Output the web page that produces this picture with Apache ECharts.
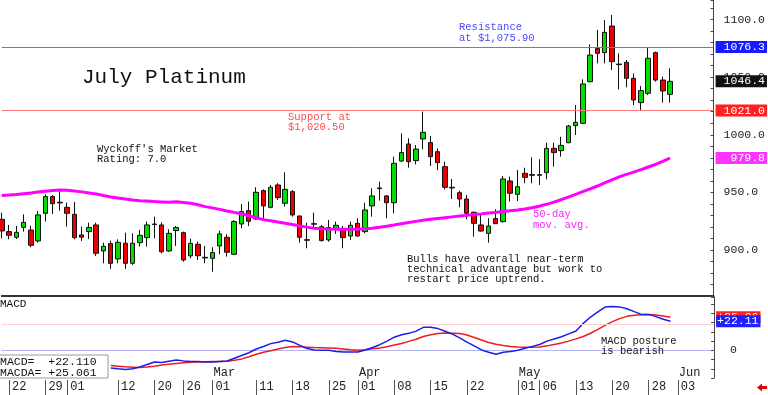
<!DOCTYPE html>
<html><head><meta charset="utf-8">
<script src="https://cdn.jsdelivr.net/npm/echarts@6/dist/echarts.min.js"></script>
<style>html,body{margin:0;padding:0;background:#fff}#c{width:768px;height:395px}</style>
</head><body><div id="c"></div>
<script>
const dates = ['2024-01-19','2024-01-22','2024-01-23','2024-01-24','2024-01-25','2024-01-26','2024-01-29','2024-01-30','2024-01-31',
'2024-02-01','2024-02-02','2024-02-05','2024-02-06','2024-02-07','2024-02-08','2024-02-09','2024-02-12','2024-02-13','2024-02-14','2024-02-15','2024-02-16','2024-02-20','2024-02-21','2024-02-22','2024-02-23','2024-02-26','2024-02-27','2024-02-28','2024-02-29',
'2024-03-01','2024-03-04','2024-03-05','2024-03-06','2024-03-07','2024-03-08','2024-03-11','2024-03-12','2024-03-13','2024-03-14','2024-03-15','2024-03-18','2024-03-19','2024-03-20','2024-03-21','2024-03-22','2024-03-25','2024-03-26','2024-03-27','2024-03-28',
'2024-04-01','2024-04-02','2024-04-03','2024-04-04','2024-04-05','2024-04-08','2024-04-09','2024-04-10','2024-04-11','2024-04-12','2024-04-15','2024-04-16','2024-04-17','2024-04-18','2024-04-19','2024-04-22','2024-04-23','2024-04-24','2024-04-25','2024-04-26','2024-04-29','2024-04-30',
'2024-05-01','2024-05-02','2024-05-03','2024-05-06','2024-05-07','2024-05-08','2024-05-09','2024-05-10','2024-05-13','2024-05-14','2024-05-15','2024-05-16','2024-05-17','2024-05-20','2024-05-21','2024-05-22','2024-05-23','2024-05-24','2024-05-28','2024-05-29','2024-05-30','2024-05-31',
'2024-06-03','2024-06-04','2024-06-05','2024-06-06','2024-06-07','2024-06-10'];

const opens = [926.6,915.9,911.0,919.6,917.3,907.8,931.8,946.3,941.4,937.0,930.9,913.0,915.9,921.7,899.1,905.5,892.2,905.8,888.4,906.3,910.7,922.0,921.7,899.1,916.8,915.0,894.8,904.9,893.0,892.7,903.4,911.0,896.2,922.5,934.1,926.9,951.5,937.0,956.4,940.5,950.6,929.5,908.4,922.3,920.2,908.7,918.2,917.9,912.1,923.1,915.9,938.2,953.8,946.9,941.0,977.2,992.0,977.5,996.3,993.2,985.3,972.3,953.8,949.7,944.2,932.7,921.7,914.4,927.2,924.6,959.9,948.3,966.5,964.8,965.4,967.1,988.2,986.2,993.1,1007.9,1009.9,1046.1,1074.8,1071.3,1094.4,1061.4,1062.9,1049.0,1027.9,1036.0,1071.3,1047.5,1035.1];
const closes = [916.5,912.7,915.3,924.0,904.0,930.4,946.3,940.2,940.8,931.8,910.7,911.0,919.6,897.1,903.2,888.4,906.6,888.4,905.8,912.7,921.7,922.5,898.5,914.4,919.4,891.3,905.7,895.0,893.6,897.7,913.9,898.0,924.6,933.3,924.9,950.0,938.2,954.4,945.4,952.6,930.4,911.0,908.9,922.8,908.1,919.4,921.4,910.7,921.4,912.1,934.7,946.9,953.2,941.0,975.2,984.5,976.6,987.6,1002.1,981.0,975.8,954.4,954.4,944.2,931.8,923.1,916.4,920.8,922.8,961.6,949.2,954.9,963.0,965.4,964.8,988.2,984.5,990.8,1007.6,1010.8,1044.1,1069.2,1070.7,1088.9,1063.5,1060.9,1049.0,1030.2,1038.3,1066.4,1047.5,1038.0,1046.4];
const lows = [910.1,909.2,909.5,915.9,902.3,906.3,924.6,931.2,934.1,920.2,909.2,907.8,909.5,894.8,888.4,883.5,888.4,883.5,887.0,902.9,902.9,910.1,897.1,898.5,903.4,889.8,892.7,891.3,888.4,881.1,896.2,894.2,895.6,918.8,920.8,926.0,925.4,936.1,943.4,937.6,928.9,906.3,901.4,918.8,907.2,907.2,913.9,901.4,908.7,911.5,914.4,928.9,942.8,927.5,931.8,976.6,971.4,974.3,987.4,972.9,969.4,952.6,944.2,937.0,926.6,911.5,915.9,906.3,922.5,923.7,941.9,942.5,957.9,957.9,956.4,961.3,972.3,981.0,992.6,999.8,1009.3,1045.5,1062.0,1062.0,1056.2,1039.4,1041.2,1025.8,1021.5,1034.5,1046.1,1027.9,1027.9];
const highs = [932.4,921.7,920.8,930.9,921.1,933.8,948.3,947.7,951.5,941.1,941.7,920.2,923.7,923.7,906.3,908.1,909.2,915.0,914.4,917.3,924.6,928.9,924.0,917.9,920.8,915.9,909.8,907.2,903.4,902.3,916.8,913.6,926.0,939.9,942.0,954.4,952.6,956.4,957.9,967.4,952.0,929.5,923.7,932.4,921.7,926.0,924.6,920.8,924.6,927.5,941.0,953.5,959.3,947.7,981.0,1001.3,996.9,991.1,1020.1,998.9,988.2,976.6,961.6,951.5,947.7,933.2,930.9,927.5,935.3,964.2,963.6,969.4,971.4,980.4,978.7,993.1,993.1,998.3,1008.5,1025.8,1048.1,1078.5,1091.0,1099.6,1104.0,1070.7,1064.9,1053.3,1042.3,1075.9,1072.2,1050.4,1057.7];
const ma50 = [947.2,947.6,948.1,948.8,949.5,950.3,951.0,951.6,952.0,951.8,951.2,950.4,949.5,948.5,947.2,946.0,945.0,944.2,943.4,942.8,942.4,942.0,941.7,941.4,941.8,941.2,940.6,939.2,937.6,936.5,935.2,933.8,932.6,931.5,929.7,927.9,926.3,925.3,924.2,923.2,922.1,920.9,919.8,918.9,918.4,918.1,918.0,917.9,917.9,918.0,918.3,918.9,919.6,920.6,921.6,922.8,923.8,924.8,925.8,926.6,927.3,928.0,928.7,929.4,930.0,930.7,931.3,932.0,932.6,933.3,934.0,934.6,935.5,936.6,938.0,939.6,941.5,943.6,945.9,948.2,950.6,953.0,955.5,958.2,960.9,963.4,965.6,967.5,969.7,972.0,974.2,976.8,979.8];
const macd = [null,null,null,null,null,null,null,null,null,null,null,null,null,null,null,
-13.4,-14.0,-14.5,-14.0,-12.7,-10.8,-8.9,-9.2,-8.2,-7.3,-8.0,-8.4,-8.5,-8.8,-8.8,-8.4,-8.1,-6.0,-3.9,-1.8,1.0,2.9,5.1,6.2,7.6,6.4,3.8,1.4,0.3,0,0,-0.9,-1.3,-1.3,-1.3,0.3,2.2,4.3,7.0,10.0,11.8,12.9,14.6,17.5,17.6,16.5,14.5,12.3,9.5,6.3,3.4,0.3,-1.5,-3.0,-1.5,-0.8,0.1,1.6,3.0,4.4,7.0,8.6,10.3,12.5,14.7,20.5,25.3,29.2,32.9,33.3,33.0,31.6,29.4,27.3,27.3,25.6,23.6,22.11];
const macdAvg = [null,null,null,null,null,null,null,null,null,null,null,null,null,null,null,
-11.5,-12.0,-12.5,-12.8,-13.1,-12.6,-12.0,-11.2,-10.5,-10.0,-9.5,-9.0,-8.8,-8.6,-8.5,-8.4,-8.3,-7.6,-6.5,-4.8,-3.0,-1.5,-0.3,1.0,2.2,3.0,2.7,2.4,2.1,1.9,1.7,1.5,1.0,0.5,0.1,0.5,1.2,1.8,2.8,4.0,5.2,6.8,8.4,10.5,11.8,12.8,13.1,13.0,12.8,11.6,9.8,7.8,6.0,4.6,3.6,3.0,2.5,2.4,2.4,2.6,3.4,4.5,5.5,7.0,8.7,10.5,13.0,15.9,19.0,21.8,24.1,25.8,26.6,27.0,27.3,26.9,26.0,25.061];
const tickDates = ['2024-01-22','2024-01-29','2024-02-01','2024-02-12','2024-02-20','2024-02-26','2024-03-01','2024-03-11','2024-03-18','2024-03-25','2024-04-01','2024-04-08','2024-04-15','2024-04-22','2024-05-01','2024-05-06','2024-05-13','2024-05-20','2024-05-28','2024-06-03'];
const monthStarts = ['2024-02-01','2024-03-01','2024-04-01','2024-05-01','2024-06-03'];
const monthNames = ['Jan','Feb','Mar','Apr','May','Jun','Jul','Aug','Sep','Oct','Nov','Dec'];
const priceTicks = [900, 950, 1000, 1050, 1100];
const resistance = 1076.3;
const support = 1021.0;
const macdRef = 20;

const MONO = '"Liberation Mono", "DejaVu Sans Mono", monospace';
const NOLINE = { color: 'rgba(0,0,0,0)', width: 1 };
const candleData = opens.map((o, i) => [o, closes[i], lows[i], highs[i]]);
const last = a => a[a.length - 1];
const lastClose = last(closes), lastMA = last(ma50), lastMacd = last(macd), lastAvg = last(macdAvg);
const sgn = v => (v >= 0 ? '+' : '') + v;
const isTick = (i, v) => tickDates.includes(v);

function boxLabel(text, bg, pad) {
  return { show: true, position: 'end', distance: 2, formatter: text, color: '#fff',
    backgroundColor: bg, padding: pad, fontFamily: MONO, fontSize: 11.5, lineHeight: 12 };
}
function txt(x, y, text, color, size, lh) {
  return { type: 'text', x: x, y: y, z: 100,
    style: { text: text, fill: color, font: size + 'px ' + MONO, lineHeight: lh, verticalAlign: 'top' } };
}

const chart = echarts.init(document.getElementById('c'), null, { renderer: 'canvas' });
chart.setOption({
  animation: false,
  backgroundColor: '#fff',
  grid: [
    { left: 1.8, top: 0, width: 712.3, height: 296 },
    { left: 1.8, top: 297, width: 712.3, height: 81 },
    { left: 1.8, top: 380, width: 712.3, height: 15 }
  ],
  xAxis: [
    { type: 'category', gridIndex: 0, position: 'bottom', data: dates, boundaryGap: false,
      axisLine: { show: true, lineStyle: { color: '#333', width: 2 } },
      axisTick: { show: false }, axisLabel: { show: false } },
    { type: 'category', gridIndex: 1, position: 'bottom', data: dates, boundaryGap: false,
      axisLine: { show: true, lineStyle: { color: '#b4b4f0', width: 1 } },
      axisTick: { show: false },
      axisLabel: { show: true, interval: isTick, formatter: v => v.slice(8),
        align: 'left', padding: [0, 0, 0, 3], margin: 3, fontFamily: MONO, fontSize: 12, color: '#222' } },
    { type: 'category', gridIndex: 1, position: 'bottom', data: dates, boundaryGap: false,
      axisLine: { show: false }, axisTick: { show: false },
      axisLabel: { show: true, inside: true, interval: (i, v) => monthStarts.includes(v),
        formatter: v => monthNames[parseInt(v.slice(5, 7), 10) - 1],
        align: 'left', margin: 1, lineHeight: 9, backgroundColor: '#fff', padding: [0, 1, 0, 1],
        fontFamily: MONO, fontSize: 12, color: '#222' } },
    { type: 'category', gridIndex: 2, position: 'bottom', data: dates, boundaryGap: false,
      axisLine: { show: false }, axisTick: { show: false }, axisLabel: { show: false },
      splitLine: { show: true, interval: isTick, lineStyle: { color: '#555', width: 1 } } }
  ],
  yAxis: [
    { type: 'value', gridIndex: 0, position: 'right', min: 860, max: 1117, interval: 10,
      splitLine: { show: false },
      axisLine: { show: true, lineStyle: { color: '#444' } },
      axisTick: { show: true, inside: true, length: 3, lineStyle: { color: '#444' } },
      axisLabel: { margin: 10, fontFamily: MONO, fontSize: 11.5, color: '#222',
        formatter: v => priceTicks.includes(v) ? v.toFixed(1) : '' } },
    { type: 'value', gridIndex: 1, position: 'right', min: -21, max: 40.5, interval: 7,
      splitLine: { show: false },
      axisLine: { show: true, lineStyle: { color: '#444' } },
      axisTick: { show: true, inside: true, length: 3, lineStyle: { color: '#444' } },
      axisLabel: { margin: 16, fontFamily: MONO, fontSize: 11.5, color: '#222',
        formatter: v => v === 0 ? '0' : '' } },
    { type: 'value', gridIndex: 2, show: false, min: 0, max: 1 }
  ],
  series: [
    { type: 'candlestick', xAxisIndex: 0, yAxisIndex: 0, data: candleData, barWidth: 5, clip: false,
      itemStyle: { color: '#00dd00', color0: '#ee0000', borderColor: '#111', borderColor0: '#111', borderWidth: 1 },
      markLine: { symbol: 'none', silent: true, animation: false,
        data: [
          { yAxis: resistance, lineStyle: { color: '#6e6eff', width: 1, type: 'solid' }, label: boxLabel(resistance.toFixed(1), '#1a1aff', [0, 2, 0, 8]) },
          { yAxis: support, lineStyle: { color: '#ff7a7a', width: 1, type: 'solid' }, label: boxLabel(support.toFixed(1), '#ff2020', [0, 2, 0, 8]) },
          { yAxis: lastClose, lineStyle: NOLINE, label: boxLabel(lastClose.toFixed(1), '#111', [0, 2, 0, 8]) }
        ] } },
    { type: 'line', xAxisIndex: 0, yAxisIndex: 0, data: ma50, symbol: 'none',
      lineStyle: { color: '#ff00ff', width: 3 },
      markLine: { symbol: 'none', silent: true, animation: false,
        data: [ { yAxis: lastMA, lineStyle: NOLINE, label: boxLabel(' ' + lastMA.toFixed(1), '#ff33ff', [0, 2, 0, 8]) } ] } },
    { type: 'line', xAxisIndex: 1, yAxisIndex: 1, data: macdAvg, symbol: 'none',
      lineStyle: { color: '#ee1c1c', width: 1.5 },
      markLine: { symbol: 'none', silent: true, animation: false,
        data: [
          { yAxis: macdRef, lineStyle: { color: '#ffd0d0', width: 1, type: 'solid' }, label: { show: false } },
          { yAxis: lastAvg, lineStyle: NOLINE, label: boxLabel(sgn(lastAvg.toFixed(2)), '#ff2020', [0, 2, 0, 1]) }
        ] } },
    { type: 'line', xAxisIndex: 1, yAxisIndex: 1, data: macd, symbol: 'none',
      lineStyle: { color: '#1c1cee', width: 1.5 },
      markLine: { symbol: 'none', silent: true, animation: false,
        data: [ { yAxis: lastMacd, lineStyle: NOLINE, label: boxLabel(sgn(lastMacd.toFixed(2)), '#2020ff', [0, 2, 0, 1]) } ] } }
  ],
  graphic: [
    txt(82, 66, 'July Platinum', '#111', 21, 22),
    txt(97, 144, "Wyckoff's Market\nRating: 7.0", '#111', 10.5, 10),
    txt(459, 21.5, 'Resistance\nat $1,075.90', '#4a4aff', 10.5, 11),
    txt(288, 111.8, 'Support at\n$1,020.50', '#ff4848', 10.5, 10.5),
    txt(533, 208.5, '50-day\nmov. avg.', '#ff22ff', 10.5, 11),
    txt(407, 254, 'Bulls have overall near-term\ntechnical advantage but work to\nrestart price uptrend.', '#111', 10.5, 10),
    txt(601, 336, 'MACD posture\nis bearish', '#111', 10.5, 10),
    txt(0, 298.5, 'MACD', '#111', 11, 11),
    { type: 'rect', z: 99, shape: { x: -1, y: 355, width: 109, height: 23 }, style: { fill: '#fff', stroke: '#9a9a9a', lineWidth: 1 } },
    txt(0, 356.2, 'MACD=  ' + sgn(lastMacd.toFixed(3)) + '\nMACDA= ' + sgn(lastAvg.toFixed(3)), '#111', 11.5, 11),
    { type: 'polygon', z: 100, shape: { points: [[757, 387.5], [762, 383.5], [762, 386], [767, 386], [767, 389], [762, 389], [762, 391.5]] }, style: { fill: '#e00000' } }
  ]
});
</script>
</body></html>
